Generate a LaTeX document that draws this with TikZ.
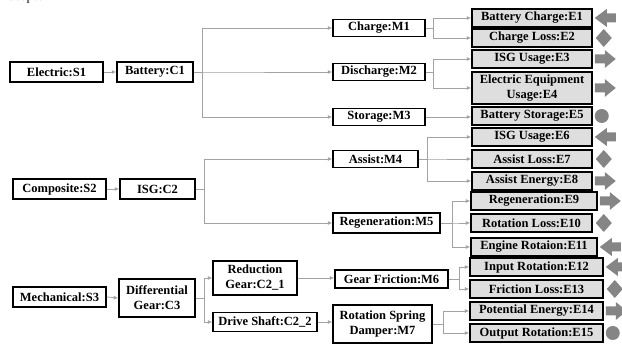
\documentclass[tikz,border=0pt]{standalone}
\usepackage{fontspec}
\setmainfont{Liberation Serif}
\usetikzlibrary{arrows.meta}
\definecolor{linkgray}{HTML}{A3A3A3}
\definecolor{symgray}{HTML}{858585}
\definecolor{boxfill}{HTML}{DEDEDE}
\begin{document}
\begin{tikzpicture}[x=1pt,y=-1pt,
  box/.style={draw=black,line width=1.5pt,fill=white,inner sep=0pt,align=center,
    font=\fontsize{12.5}{15}\selectfont\bfseries},
  endbox/.style={box,fill=boxfill},
  sz/.style 2 args={minimum width=#1pt,minimum height=#2pt},
  link/.style={draw=linkgray,line width=0.8pt,-{Latex[length=4.5pt,width=4pt]}},
  symfill/.style={fill=symgray},
  larr/.pic={\fill[symfill] (0,0) -- (12,-9) -- (12,-4.5) -- (21,-4.5) -- (21,4.5) -- (12,4.5) -- (12,9) -- cycle;},
  rarr/.pic={\fill[symfill] (0,-4.5) -- (10,-4.5) -- (10,-9) -- (21,0) -- (10,9) -- (10,4.5) -- (0,4.5) -- cycle;},
  dmd/.pic={\fill[symfill] (0,0) -- (8,-9) -- (16,0) -- (8,9) -- cycle;},
  dot/.pic={\fill[symfill] (7,0) circle[radius=7];}]
\useasboundingbox (0,0) rectangle (622,344);
\clip (0,0) rectangle (622,344);

% running text cut off at the top edge
\node[anchor=base west,inner sep=0pt,font=\fontsize{13}{13}\selectfont] (frag) at (9,1) {scope.};

% sources and components
\node[box,sz={93}{20}] (S1) at (56.5,72) {Electric:S1};
\node[box,sz={76}{20}] (C1) at (155,72) {Battery:C1};
\node[box,sz={93}{20}] (S2) at (59.5,189) {Composite:S2};
\node[box,sz={75}{20}] (C2) at (157.5,189) {ISG:C2};
\node[box,sz={93}{20}] (S3) at (59.5,297) {Mechanical:S3};
\node[box,sz={76}{38}] (C3) at (157,298) {Differential\\Gear:C3};
\node[box,sz={84}{34}] (C21) at (255,278) {Reduction\\Gear:C2\_1};
\node[box,sz={104}{19}] (C22) at (265,322) {Drive Shaft:C2\_2};

% mechanisms
\node[box,sz={92}{17}] (M1) at (379,28) {Charge:M1};
\node[box,sz={92}{17}] (M2) at (379,72) {Discharge:M2};
\node[box,sz={92}{17}] (M3) at (379,117) {Storage:M3};
\node[box,sz={85}{17}] (M4) at (375.5,159) {Assist:M4};
\node[box,sz={107}{20}] (M5) at (386.5,223) {Regeneration:M5};
\node[box,sz={113}{18}] (M6) at (391.5,279) {Gear Friction:M6};
\node[box,sz={99}{38}] (M7) at (382.5,324) {Rotation Spring\\Damper:M7};

% energy items
\node[endbox,sz={120}{18}] (E1) at (532,18) {Battery Charge:E1};
\node[endbox,sz={120}{18}] (E2) at (532,38) {Charge Loss:E2};
\node[endbox,sz={120}{18}] (E3) at (532,59) {ISG Usage:E3};
\node[endbox,sz={120}{32}] (E4) at (532,88) {Electric Equipment\\Usage:E4};
\node[endbox,sz={120}{18}] (E5) at (532,116) {Battery Storage:E5};
\node[endbox,sz={120}{18}] (E6) at (532,137) {ISG Usage:E6};
\node[endbox,sz={120}{18}] (E7) at (532,159) {Assist Loss:E7};
\node[endbox,sz={120}{18}] (E8) at (532,181) {Assist Energy:E8};
\node[endbox,sz={126}{18}] (E9) at (534,201) {Regeneration:E9};
\node[endbox,sz={121}{18}] (E10) at (531.5,223) {Rotation Loss:E10};
\node[endbox,sz={126}{18}] (E11) at (534,247) {Engine Rotaion:E11};
\node[endbox,sz={133}{18}] (E12) at (536.5,267) {Input Rotation:E12};
\node[endbox,sz={133}{18}] (E13) at (536.5,289) {Friction Loss:E13};
\node[endbox,sz={133}{18}] (E14) at (536.5,311) {Potential Energy:E14};
\node[endbox,sz={133}{18}] (E15) at (536.5,333) {Output Rotation:E15};

% connectors
\draw[link] (S1.east) -- (C1.west);
\draw[link] (S2.east) -- (C2.west);
\draw[link] (S3.east) -- (C3.west);
\foreach \m in {M1,M2,M3} \draw[link] (C1.east) -- ++(9,0) |- (\m.west);
\foreach \m in {M4,M5} \draw[link] (C2.east) -- ++(9,0) |- (\m.west);
\foreach \m in {C21,C22} \draw[link] (C3.east) -- ++(9,0) |- (\m.west);
\draw[link] (C21.east) -- (C21.east -| M6.west);
\draw[link] (C22.east) -- (C22.east -| M7.west);
\foreach \e in {E1,E2} \draw[link] (M1.east) -- ++(8,0) |- (\e.west);
\foreach \e in {E3,E4} \draw[link] (M2.east) -- ++(8,0) |- (\e.west);
\draw[link] (M3.east) -- (M3.east -| E5.west);
\foreach \e in {E6,E7,E8} \draw[link] (M4.east) -- ++(9,0) |- (\e.west);
\foreach \e in {E9,E10,E11} \draw[link] (M5.east) -- ++(12,0) |- (\e.west);
\foreach \e in {E12,E13} \draw[link] (M6.east) -- ++(11,0) |- (\e.west);
\foreach \e in {E14,E15} \draw[link] (M7.east) -- ++(11,0) |- (\e.west);

% flow markers beside the energy items
\foreach \e in {E1,E6,E11,E12} \path (\e.east) ++(2,0) pic {larr};
\foreach \e in {E2,E7,E10,E13} \path (\e.east) ++(3,0) pic {dmd};
\foreach \e in {E3,E4,E8,E9,E14} \path (\e.east) ++(2,0) pic {rarr};
\foreach \e in {E5,E15} \path (\e.east) ++(2,0) pic {dot};
\end{tikzpicture}
\end{document}
